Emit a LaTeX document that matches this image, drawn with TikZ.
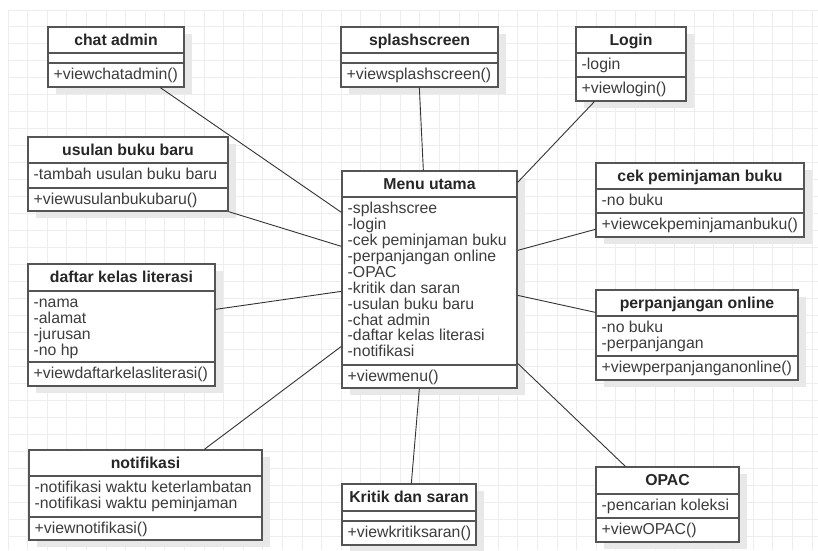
\documentclass[tikz,border=0pt]{standalone}
\usepackage{fontspec}
\setmainfont{Liberation Sans}
\usetikzlibrary{calc,fit}
\definecolor{gridc}{HTML}{EDEDED}
\definecolor{shadowc}{HTML}{E8E8E8}
\definecolor{borderc}{HTML}{555555}
\definecolor{textc}{HTML}{3C3C3C}
\definecolor{titlec}{HTML}{262626}
\definecolor{linec}{HTML}{333333}
\tikzset{
  gridline/.style={draw=gridc, line width=1pt},
  classbox/.style={draw=borderc, line width=1.3pt, fill=white, inner sep=0pt},
  divider/.style={draw=borderc, line width=1.3pt},
  shadowbox/.style={fill=shadowc},
  titletext/.style={anchor=base, inner sep=0pt, font=\bfseries\fontsize{15.8}{16}\selectfont, text=titlec},
  attrtext/.style={anchor=base west, inner sep=0pt, font=\fontsize{15.8}{16}\selectfont, text=textc},
  assoc/.style={draw=linec, line width=0.9pt},
}
% #1 id, #2 x1, #3 y1, #4 x2, #5 y2, #6 divider1, #7 divider2, #8 title, #9 method
\newcommand\umlclass[9]{%
  \fill[shadowbox] (#2+8,#3+7) rectangle (#4+8,#5+7);
  \node[classbox, fit={(#2,#3) (#4,#5)}] (#1) {};
  \draw[divider] (#2,#6) -- (#4,#6);
  \draw[divider] (#2,#7) -- (#4,#7);
  \node[titletext] (#1-title) at ({(#2+#4)/2},{(#3+#6)/2+5}) {#8};
  \node[attrtext] (#1-method) at (#2+5.5,{(#7+#5)/2+4.8}) {#9};
}
% #1 id, #2 x1, #3 divider1, #4 list
\newcommand\umlattrs[4]{%
  \foreach \t [count=\i] in {#4} {\node[attrtext] (#1-attr\i) at (#2+5.5,{#3+16.7+(\i-1)*15.9}) {\t};}
}
\begin{document}
\begin{tikzpicture}[x=1pt,y=-1pt]
\useasboundingbox (0,0) rectangle (818,550);
\fill[white] (0,0) rectangle (818,550);
\foreach \k in {0,...,41} \draw[gridline] ({8+19.61*\k},10) -- ({8+19.61*\k},550);
\foreach \k in {0,...,31} \draw[gridline] (8,{10+16.98*\k}) -- (818,{10+16.98*\k});

\umlclass{chat}{48}{27}{184}{87}{53}{63}{chat admin}{+viewchatadmin()}
\umlclass{splash}{341}{27}{498}{87}{53}{63}{splashscreen}{+viewsplashscreen()}
\umlclass{login}{576}{27}{686}{101}{53}{77}{Login}{+viewlogin()}
\umlattrs{login}{576}{53}{-login}
\umlclass{usulan}{28}{137}{228}{211}{163}{188}{usulan buku baru}{+viewusulanbukubaru()}
\umlattrs{usulan}{28}{163}{-tambah usulan buku baru}
\umlclass{daftar}{28}{264}{215}{386}{291}{362}{daftar kelas literasi}{+viewdaftarkelasliterasi()}
\umlattrs{daftar}{28}{291}{-nama,-alamat,-jurusan,-no hp}
\umlclass{menu}{342}{171}{517}{388}{197}{365}{Menu utama}{+viewmenu()}
\umlattrs{menu}{342}{197}{-splashscree,-login,-cek peminjaman buku,-perpanjangan online,-OPAC,-kritik dan saran,-usulan buku baru,-chat admin,-daftar kelas literasi,-notifikasi}
\umlclass{cek}{596}{163}{804}{237}{189}{213}{cek peminjaman buku}{+viewcekpeminjamanbuku()}
\umlattrs{cek}{596}{189}{-no buku}
\umlclass{perp}{596}{290}{798}{380}{316}{356}{perpanjangan online}{+viewperpanjanganonline()}
\umlattrs{perp}{596}{316}{-no buku,-perpanjangan}
\umlclass{notif}{29}{450}{262}{540}{476}{517}{notifikasi}{+viewnotifikasi()}
\umlattrs{notif}{29}{476}{-notifikasi waktu keterlambatan,-notifikasi waktu peminjaman}
\umlclass{kritik}{342}{484}{476}{545}{511}{521}{Kritik dan saran}{+viewkritiksaran()}
\umlclass{opac}{596}{467}{739}{542}{494}{518}{OPAC}{+viewOPAC()}
\umlattrs{opac}{596}{494}{-pencarian koleksi}

\draw[assoc] ($(chat.south west)+(113,0)$) -- ($(menu.north west)+(0,42)$);
\draw[assoc] (usulan.south east) -- ($(menu.north west)+(0,76)$);
\draw[assoc] ($(daftar.north east)+(0,46)$) -- ($(menu.north west)+(0,121)$);
\draw[assoc] ($(notif.north west)+(176,0)$) -- ($(menu.north west)+(0,176)$);
\draw[assoc] ($(splash.south west)+(79,0)$) -- ($(menu.north west)+(82,0)$);
\draw[assoc] ($(login.south west)+(19,0)$) -- ($(menu.north east)+(0,12)$);
\draw[assoc] ($(cek.north west)+(0,67)$) -- ($(menu.north east)+(0,80)$);
\draw[assoc] ($(perp.north west)+(0,23)$) -- ($(menu.north east)+(0,125)$);
\draw[assoc] ($(opac.north west)+(30,0)$) -- ($(menu.north east)+(0,193)$);
\draw[assoc] ($(kritik.north west)+(70,0)$) -- ($(menu.south west)+(78,0)$);
\end{tikzpicture}
\end{document}
